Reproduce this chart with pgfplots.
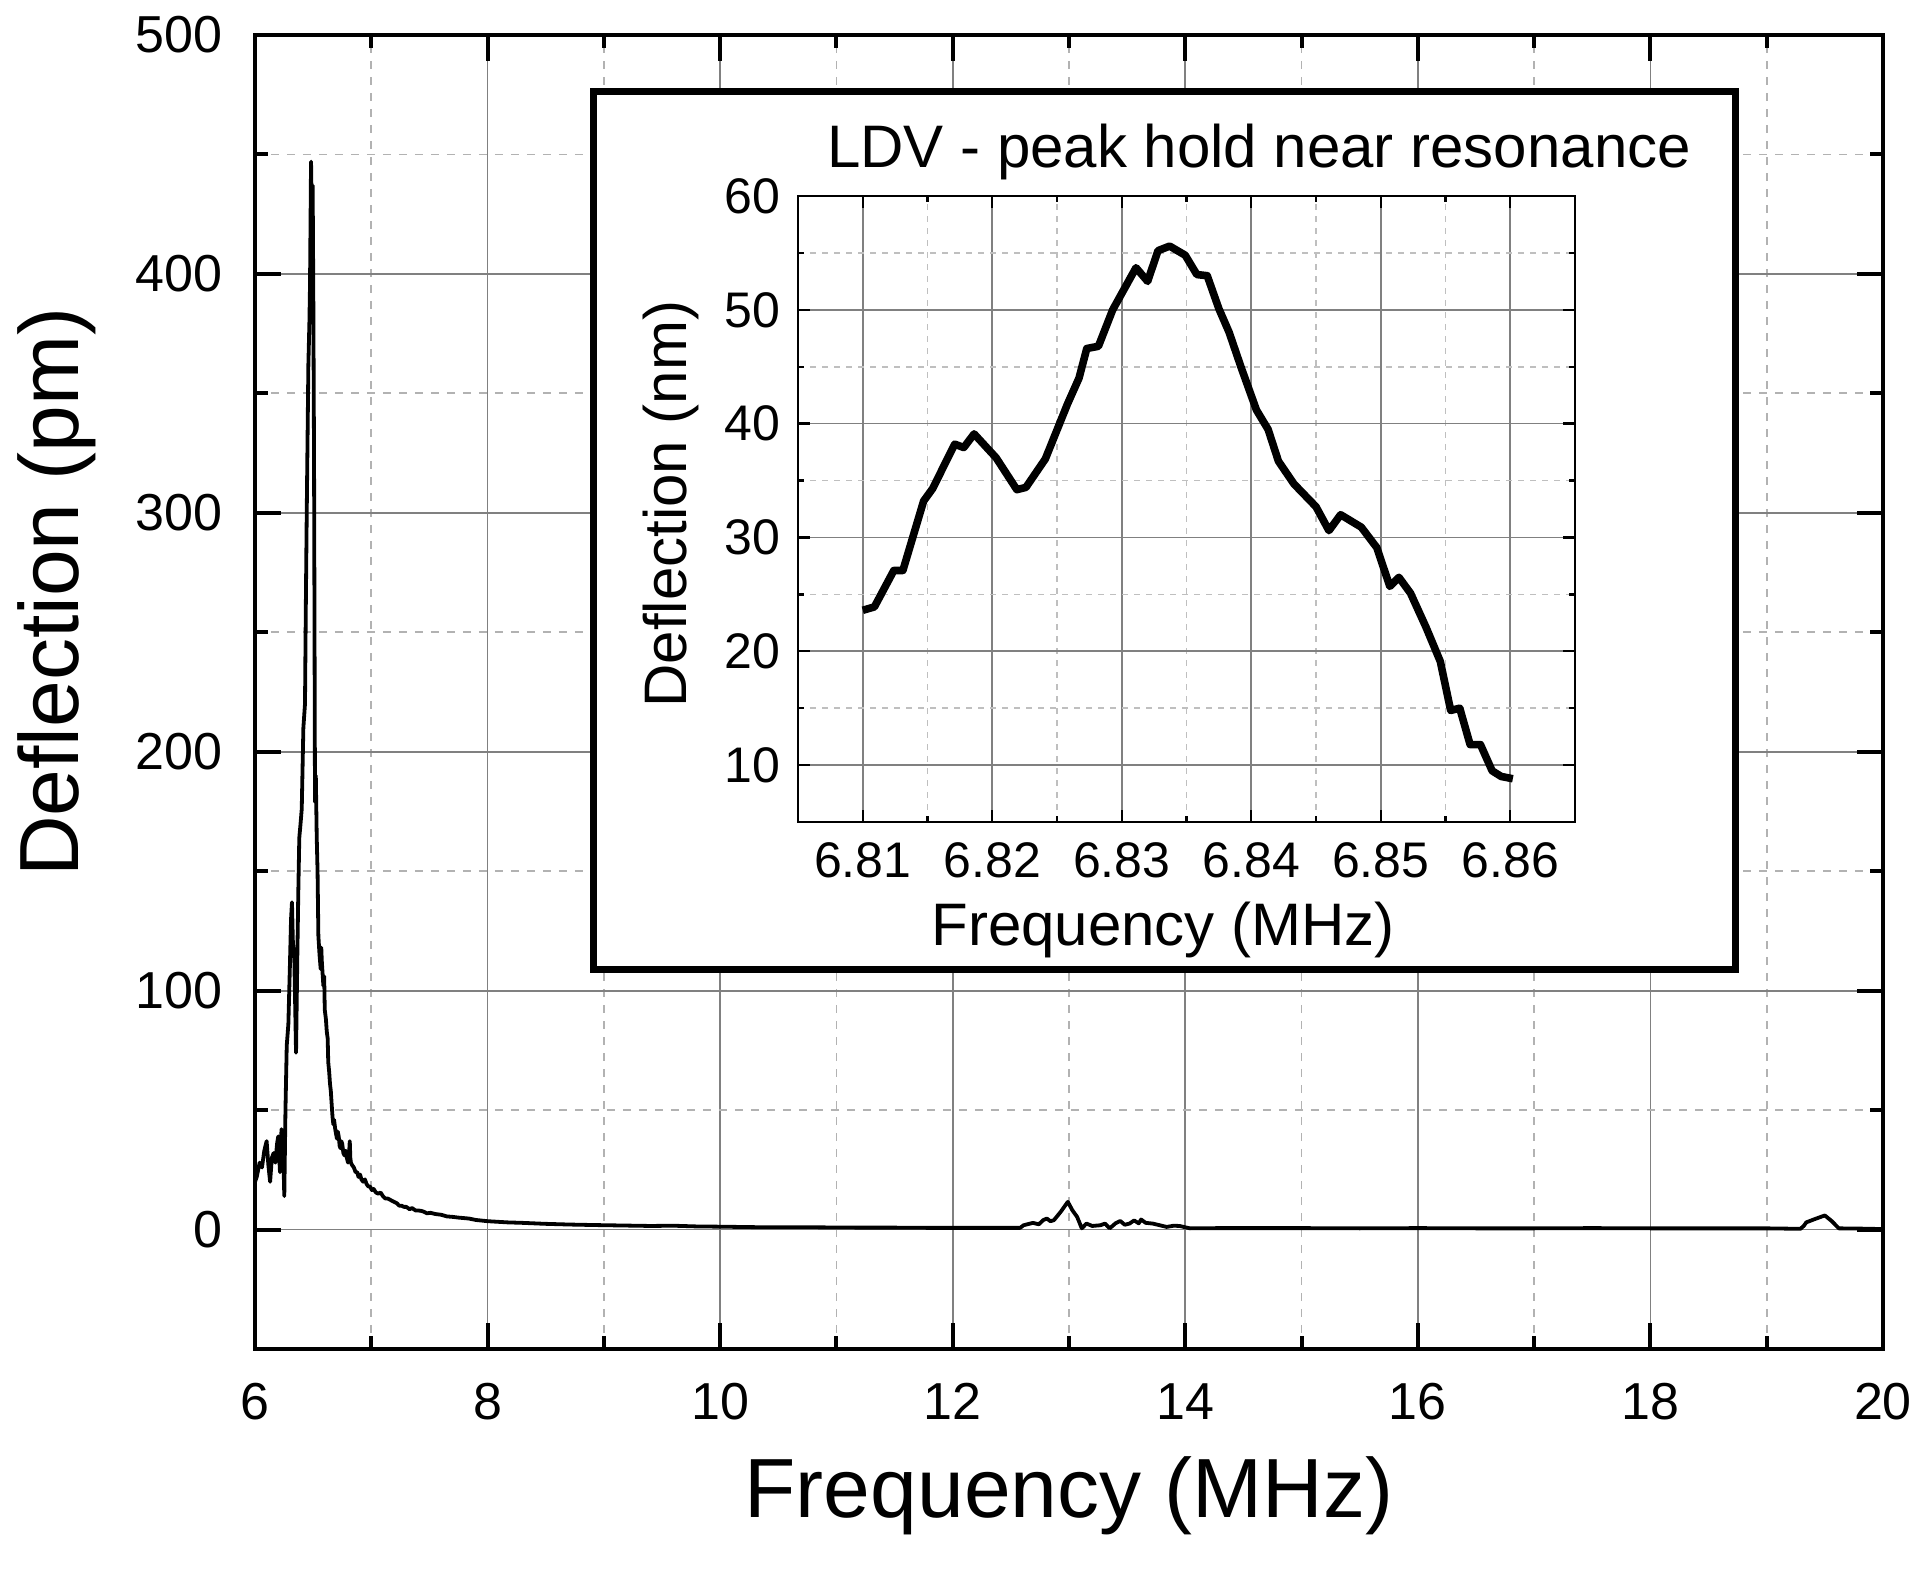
\documentclass[border=0pt]{standalone}
\usepackage{fontspec}
\setmainfont{Liberation Sans}
\usepackage{pgfplots}
\pgfplotsset{compat=1.18}

\pgfplotsset{
  figbase/.style={
    scale only axis,
    anchor=south west,
    xtick pos=both, ytick pos=both,
    xticklabel pos=bottom, yticklabel pos=left,
    tick align=inside,
    grid=both,
    /pgf/number format/assume math mode=true,
    major tick style={black},
    minor tick style={black},
  }
}

\begin{document}
\begin{tikzpicture}
\path[use as bounding box] (-63.75pt,-56.75pt) rectangle (416.25pt,337.25pt);

\begin{axis}[
  figbase,
  at={(0pt,0pt)},
  width=407pt, height=328.5pt,
  xmin=6, xmax=20, ymin=-50, ymax=500,
  xtick={6,8,...,20}, ytick={0,100,...,500},
  minor x tick num=1, minor y tick num=1,
  major tick length=6.5pt, minor tick length=3.25pt,
  major tick style={black, line width=1pt},
  minor tick style={black, line width=1pt},
  axis line style={line width=1pt},
  major grid style={black!50, line width=0.45pt},
  minor grid style={black!30, line width=0.45pt, dash pattern=on 2pt off 2pt},
  ticklabel style={font=\fontsize{13}{15}\selectfont},
  xticklabel style={anchor=base, yshift=-17.75pt},
  yticklabel style={anchor=east, inner sep=0pt, xshift=-8pt},
  xlabel={Frequency (MHz)}, ylabel={Deflection (pm)},
  label style={font=\fontsize{21}{25}\selectfont},
  xlabel style={at={(axis description cs:0.5,-0.1286)}, anchor=base},
  ylabel style={at={(axis description cs:-0.1087,0.576)}, anchor=base},
]
\addplot[black, line width=0.95pt, line join=round] coordinates {
(6.000,20) (6.015,22) (6.04,28) (6.06,26) (6.08,33) (6.10,37) (6.115,27)
(6.13,20) (6.145,30) (6.16,32) (6.175,28) (6.19,36) (6.20,39) (6.215,24)
(6.228,42) (6.238,40) (6.245,28) (6.252,14) (6.262,50) (6.273,77) (6.287,86)
(6.300,110) (6.310,130) (6.318,137) (6.326,120) (6.338,114) (6.353,74)
(6.364,114) (6.372,140) (6.381,164) (6.392,170) (6.402,176) (6.416,210)
(6.43,220) (6.437,260) (6.445,300) (6.459,362) (6.468,380) (6.473,395)
(6.482,447) (6.490,420) (6.496,437) (6.502,387) (6.508,319) (6.512,250)
(6.516,179) (6.523,190) (6.531,164) (6.538,150) (6.545,123) (6.555,115)
(6.565,109) (6.57,118) (6.575,112) (6.588,102) (6.595,106) (6.60,92)
(6.61,88) (6.617,83) (6.625,80) (6.63,70) (6.638,66) (6.645,61) (6.652,58)
(6.66,52) (6.667,47) (6.674,44) (6.68,46) (6.69,42) (6.697,40) (6.705,38)
(6.712,41) (6.72,39) (6.728,35) (6.735,34) (6.742,37) (6.75,36) (6.76,32)
(6.77,31) (6.78,33) (6.79,30) (6.80,28) (6.808,31) (6.815,37) (6.82,30)
(6.825,28) (6.835,27) (6.85,26) (6.865,24) (6.88,24) (6.89,22) (6.904,23)
(6.915,21) (6.93,20) (6.945,21) (6.96,19) (6.975,18) (6.99,18) (7.005,16.5)
(7.02,17) (7.04,15.5) (7.06,15) (7.08,15.5) (7.1,14) (7.12,13) (7.14,13)
(7.16,12.5) (7.18,12) (7.2,11.5) (7.22,11) (7.24,10) (7.26,10) (7.28,9.5)
(7.30,9.5) (7.33,8.5) (7.35,9) (7.38,8) (7.40,8) (7.43,7.8) (7.45,7.5)
(7.48,6.8) (7.51,7) (7.55,6.5) (7.6,6.2) (7.65,5.5) (7.7,5.3) (7.75,5.0)
(7.84,4.6) (7.9,4.0) (8.0,3.5) (8.17,3) (8.3,2.8) (8.49,2.4) (8.7,2.1)
(8.9,1.9) (9.15,1.7) (9.4,1.5) (9.6,1.6) (9.8,1.3) (10.0,1.2) (10.3,1.0)
(10.6,1.0) (10.9,0.9) (11.2,0.8) (11.5,0.8) (11.8,0.7) (12.1,0.7) (12.4,0.7)
(12.58,0.7) (12.61,1.8) (12.65,2.3) (12.69,2.8) (12.74,2.2) (12.78,4.0)
(12.81,4.6) (12.84,3.5) (12.87,3.9) (12.93,7.5) (12.99,11.6) (13.03,8)
(13.07,5.3) (13.11,0.5) (13.15,2.5) (13.2,1.5) (13.27,1.8) (13.31,2.5)
(13.35,0.5) (13.40,2.6) (13.44,3.6) (13.48,2.0) (13.52,2.5) (13.56,3.8)
(13.60,2.6) (13.62,4.2) (13.66,2.8) (13.72,2.5) (13.78,1.8) (13.84,1.1)
(13.9,1.6) (13.95,1.5) (14.04,0.5) (14.3,0.6) (14.6,0.6) (15.0,0.6)
(15.5,0.5) (16.0,0.6) (16.5,0.5) (17.0,0.5) (17.5,0.6) (18.0,0.5)
(18.5,0.5) (19.0,0.5) (19.29,0.3) (19.32,1.6) (19.34,3.0) (19.42,4.5)
(19.50,5.9) (19.56,3.5) (19.62,0.5) (19.8,0.4) (20.0,0.2)
};
\end{axis}

\draw[line width=1.75pt, fill=white] (84.625pt,94.875pt) rectangle (370.125pt,314.375pt);
\node[anchor=base, font=\fontsize{15}{18}\selectfont] at (251pt,295.3pt) {LDV - peak hold near resonance};

\begin{axis}[
  figbase,
  at={(135.75pt,131.75pt)},
  width=194.25pt, height=156.5pt,
  xmin=6.805, xmax=6.865, ymin=5, ymax=60,
  xtick={6.81,6.82,6.83,6.84,6.85,6.86}, ytick={10,20,30,40,50,60},
  minor x tick num=1, minor y tick num=1,
  scaled x ticks=false,
  major tick length=3pt, minor tick length=1.5pt,
  major tick style={black, line width=0.6pt},
  minor tick style={black, line width=0.6pt},
  axis line style={line width=0.6pt},
  major grid style={black!50, line width=0.4pt},
  minor grid style={black!25, line width=0.4pt, dash pattern=on 1.5pt off 1.5pt},
  ticklabel style={font=\fontsize{12.5}{14}\selectfont},
  xticklabel style={anchor=base, yshift=-14pt, /pgf/number format/.cd, fixed, fixed zerofill, precision=2},
  yticklabel style={anchor=east, inner sep=0pt, xshift=-4.25pt},
  xlabel={Frequency (MHz)}, ylabel={Deflection (nm)},
  label style={font=\fontsize{15}{18}\selectfont},
  xlabel style={at={(axis description cs:0.47,-0.1965)}, anchor=base},
  ylabel style={at={(axis description cs:-0.1441,0.508)}, anchor=base},
]
\addplot[black, line width=1.9pt, line join=round] coordinates {
(6.8100,23.6) (6.8109,23.9) (6.8124,27.1) (6.8131,27.1) (6.8147,33.2)
(6.8154,34.3) (6.8171,38.2) (6.8178,37.9) (6.8186,39.1) (6.8203,37.0)
(6.8219,34.2) (6.8226,34.4) (6.8241,36.9) (6.8258,41.7) (6.8267,44.0)
(6.8273,46.6) (6.8282,46.8) (6.8293,50.0) (6.8311,53.7) (6.8320,52.5)
(6.8328,55.2) (6.8337,55.6) (6.8349,54.8) (6.8358,53.1) (6.8366,53.0)
(6.8375,50.1) (6.8383,48.0) (6.8392,45.0) (6.8404,41.2) (6.8413,39.5)
(6.8421,36.7) (6.8433,34.7) (6.8450,32.7) (6.8460,30.6) (6.8469,32.0)
(6.8485,30.9) (6.8497,29.1) (6.8507,25.7) (6.8514,26.5) (6.8523,25.1)
(6.8535,22.1) (6.8546,19.1) (6.8554,14.8) (6.8561,15.0) (6.8569,11.8)
(6.8577,11.8) (6.8586,9.5) (6.8593,9.0) (6.8602,8.8)
};
\end{axis}
\end{tikzpicture}
\end{document}
